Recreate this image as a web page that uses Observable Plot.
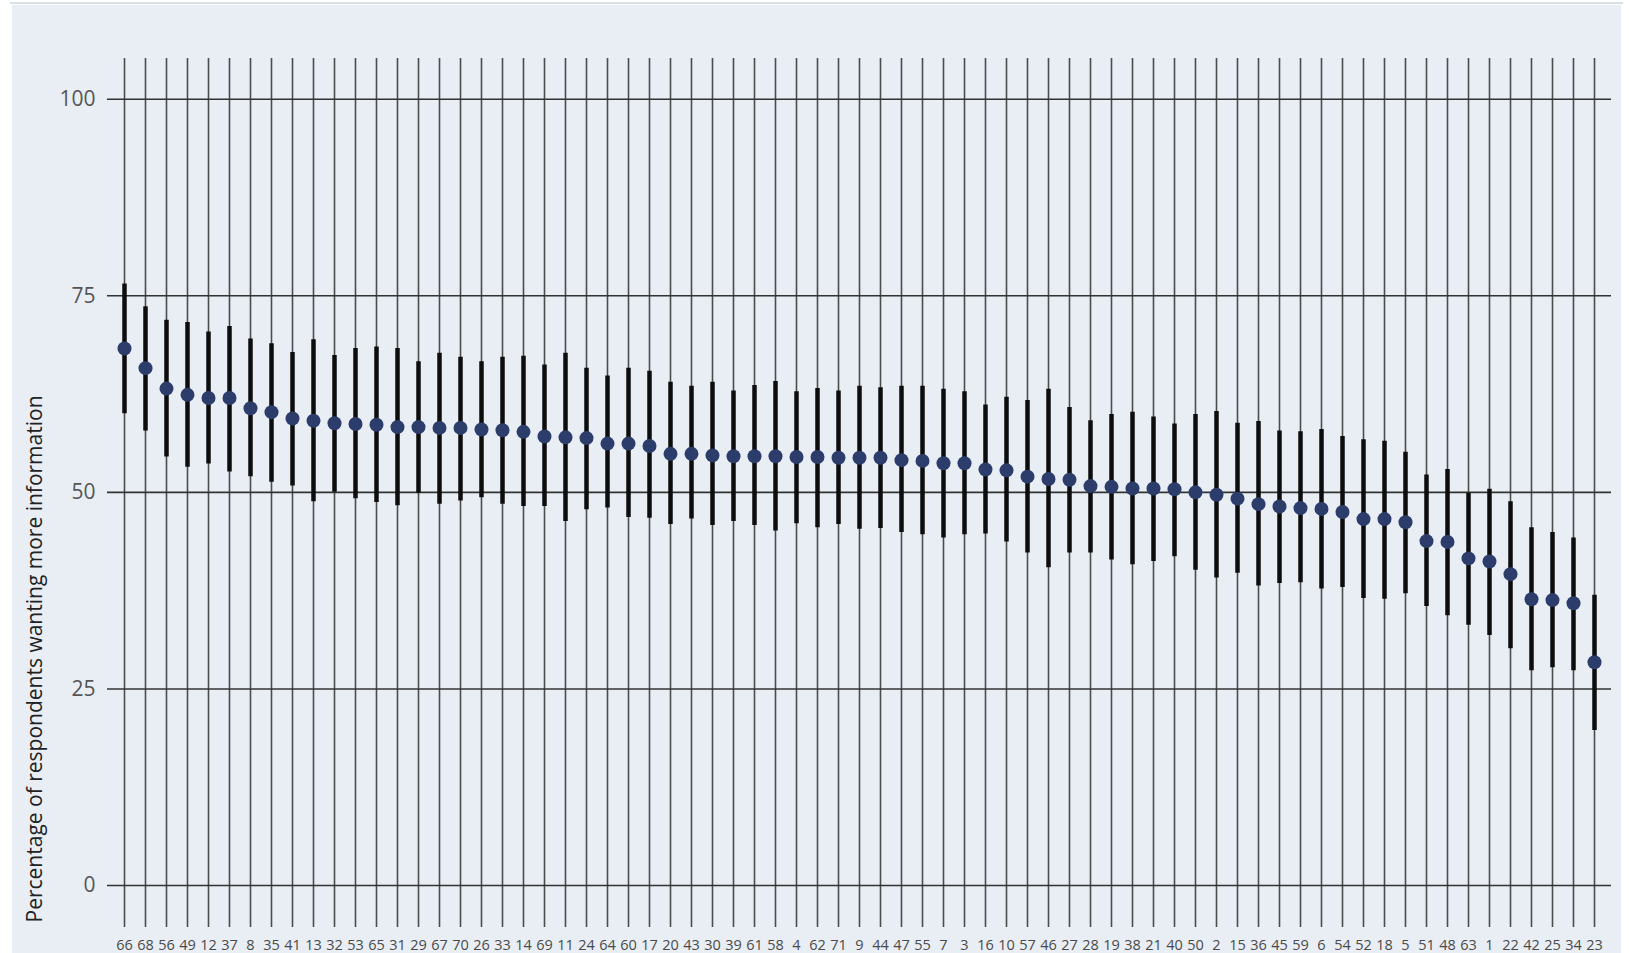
<!DOCTYPE html>
<html>
<head>
<meta charset="utf-8">
<script src="https://cdn.jsdelivr.net/npm/d3@7"></script>
<script src="https://cdn.jsdelivr.net/npm/@observablehq/plot@0.6"></script>
<style>
  html, body { margin: 0; padding: 0; background: #ffffff; overflow: hidden; }
  #topline { position: absolute; left: 10px; top: 2px; width: 1613px; height: 2px; background: #d8dee4; }
  #chart { position: absolute; left: 12px; top: 5px; }
  #chart svg { background: #e9eef5; display: block; }
</style>
</head>
<body>
<div id="topline"></div>
<div id="chart"></div>
<script>
const categories = ["66","68","56","49","12","37","8","35","41","13","32","53","65","31","29","67","70","26","33","14","69","11","24","64","60","17","20","43","30","39","61","58","4","62","71","9","44","47","55","7","3","16","10","57","46","27","28","19","38","21","40","50","2","15","36","45","59","6","54","52","18","5","51","48","63","1","22","42","25","34","23"];

const means = [68.3,65.8,63.2,62.4,62.0,62.0,60.7,60.2,59.4,59.1,58.8,58.7,58.6,58.3,58.3,58.2,58.2,58.0,57.9,57.7,57.1,57.0,56.9,56.2,56.2,55.9,54.9,54.9,54.7,54.6,54.6,54.6,54.5,54.5,54.4,54.4,54.4,54.1,54.0,53.7,53.7,52.9,52.8,52.0,51.7,51.6,50.8,50.7,50.5,50.5,50.4,50.0,49.7,49.2,48.5,48.2,48.0,47.9,47.5,46.6,46.6,46.2,43.8,43.7,41.6,41.2,39.6,36.4,36.3,35.9,28.4];

const highs = [76.5,73.6,71.9,71.6,70.4,71.1,69.5,68.9,67.8,69.4,67.4,68.3,68.5,68.3,66.6,67.7,67.2,66.6,67.2,67.3,66.2,67.7,65.8,64.8,65.8,65.4,64.0,63.5,64.0,62.9,63.6,64.1,62.8,63.2,62.9,63.5,63.3,63.5,63.5,63.1,62.8,61.1,62.1,61.7,63.1,60.8,59.1,59.9,60.2,59.6,58.7,59.9,60.3,58.8,59.0,57.8,57.7,58.0,57.1,56.7,56.5,55.1,52.2,52.9,49.9,50.4,48.8,45.5,44.9,44.2,36.9];

const lows = [60.0,57.8,54.5,53.2,53.6,52.6,52.0,51.3,50.8,48.8,50.0,49.2,48.7,48.3,49.9,48.5,48.9,49.3,48.5,48.2,48.2,46.3,47.8,48.0,46.8,46.7,45.9,46.6,45.8,46.3,45.8,45.1,46.0,45.5,45.9,45.3,45.4,44.9,44.6,44.2,44.6,44.7,43.7,42.3,40.4,42.3,42.3,41.4,40.8,41.2,41.8,40.1,39.1,39.7,38.1,38.4,38.5,37.7,37.9,36.5,36.4,37.1,35.5,34.3,33.1,31.8,30.1,27.3,27.7,27.3,19.7];

const yTicks = [0, 25, 50, 75, 100];
const yLabel = "Percentage of respondents wanting more information";

const table = categories.map((c, i) => ({id: c, mean: means[i], low: lows[i], high: highs[i]}));

const chart = Plot.plot({
  width: 1609,
  height: 948,
  marginLeft: 95,
  marginRight: 10,
  marginTop: 53,
  marginBottom: 26,
  style: {background: "#e9eef5", fontFamily: "'Open Sans', 'Noto Sans', sans-serif", overflow: "visible"},
  x: {type: "point", domain: categories, padding: 0.62, label: null},
  y: {domain: [-5.34, 105.18], label: null},
  marks: [
    Plot.ruleX(categories, {x: d => d, stroke: "#3a3a3a", strokeWidth: 1.6, strokeOpacity: 0.9}),
    Plot.ruleY(yTicks, {y: d => d, stroke: "#333333", strokeWidth: 1.6}),
    Plot.ruleX(table, {x: "id", y1: "low", y2: "high", stroke: "#0d0d0d", strokeWidth: 4.5}),
    Plot.dot(table, {x: "id", y: "mean", r: 7, fill: "#2c3d6c", stroke: "none"}),
    Plot.axisX({tickSize: 0, tickPadding: 12, fontSize: 14.5, fill: "#4a4a4a", label: null}),
    Plot.axisY({ticks: yTicks, tickSize: 0, tickPadding: 12, fontSize: 21, fill: "#555", label: null}),
    Plot.text([yLabel], {frameAnchor: "bottom-left", rotate: -90, textAnchor: "start", lineAnchor: "middle", dx: -72, dy: -5, fontSize: 21, fill: "#222", text: d => d})
  ]
});
document.getElementById("chart").appendChild(chart);
</script>
</body>
</html>
